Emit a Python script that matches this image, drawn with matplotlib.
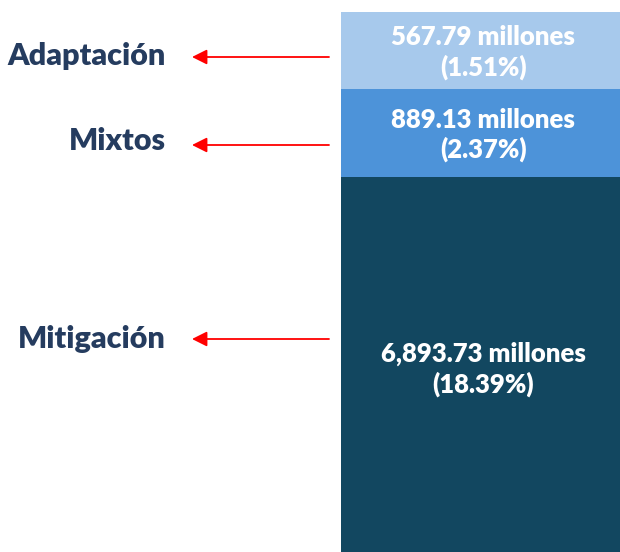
import numpy as np
import matplotlib.pyplot as plt

# datos del grafico
categorias = ['Adaptación', 'Mixtos', 'Mitigación']
montos = [567.79, 889.13, 6893.73]      # millones
porcentajes = [1.51, 2.37, 18.39]

colores = ['#a7c9ec', '#4d93d9', '#124760']
color_texto = '#253c5f'

plt.rcParams['font.family'] = ['Lato', 'DejaVu Sans']

W, H = 620, 552
fig = plt.figure(figsize=(W / 100, H / 100), dpi=100)

# escala no lineal para que los tramos se vean como en el original
p = 0.81
def fwd(d):
    d = np.asarray(d, dtype=float)
    return np.sign(d) * np.abs(d) ** p

def inv(v):
    v = np.asarray(v, dtype=float)
    return np.sign(v) * np.abs(v) ** (1 / p)

top_px = 12.3
px_primero = 76.7
ax = fig.add_axes([0, 0, 1, (H - top_px) / H])
ax.set_yscale('function', functions=(fwd, inv))
y_max = float(inv(fwd(montos[0]) * (H - top_px) / px_primero))
ax.set_ylim(y_max, 0)
ax.set_xlim(0, W)
ax.axis('off')

bases = np.concatenate([[0], np.cumsum(montos)[:-1]])
x0 = 341.3
ax.bar(x0, montos, bottom=bases, width=W - x0, align='edge',
       color=colores, linewidth=0)

# etiquetas dentro de la barra (desplazamiento en puntos)
desplaz = [-1.5, -1.5, -3.5]
for i in range(len(montos)):
    lo = fwd(bases[i])
    hi = fwd(min(bases[i] + montos[i], y_max))
    ym = inv((lo + hi) / 2)
    ax.annotate('{:,.2f} millones\n({:.2f}%)'.format(montos[i], porcentajes[i]),
                xy=((x0 + W) / 2, ym), xytext=(2, desplaz[i]),
                textcoords='offset points',
                ha='center', va='center', color='white', fontsize=18.5,
                fontweight='heavy', linespacing=1.25)

# nombres y flechas a la izquierda
y_nombres = [56, 141, 339]
y_flechas = [57, 145, 339]
for nombre, yn, yf in zip(categorias, y_nombres, y_flechas):
    fig.text(166 / W, 1 - yn / H, nombre, ha='right', va='center',
             color=color_texto, fontsize=22, fontweight='heavy')
    ax.annotate('', xy=(192, H - yf), xytext=(329, H - yf),
                xycoords='figure pixels', textcoords='figure pixels',
                arrowprops=dict(arrowstyle='-|>,head_length=0.9,head_width=0.45',
                                color='#ff0000', lw=1.3, shrinkA=0, shrinkB=0))

fig.savefig('out.png', dpi=100)
